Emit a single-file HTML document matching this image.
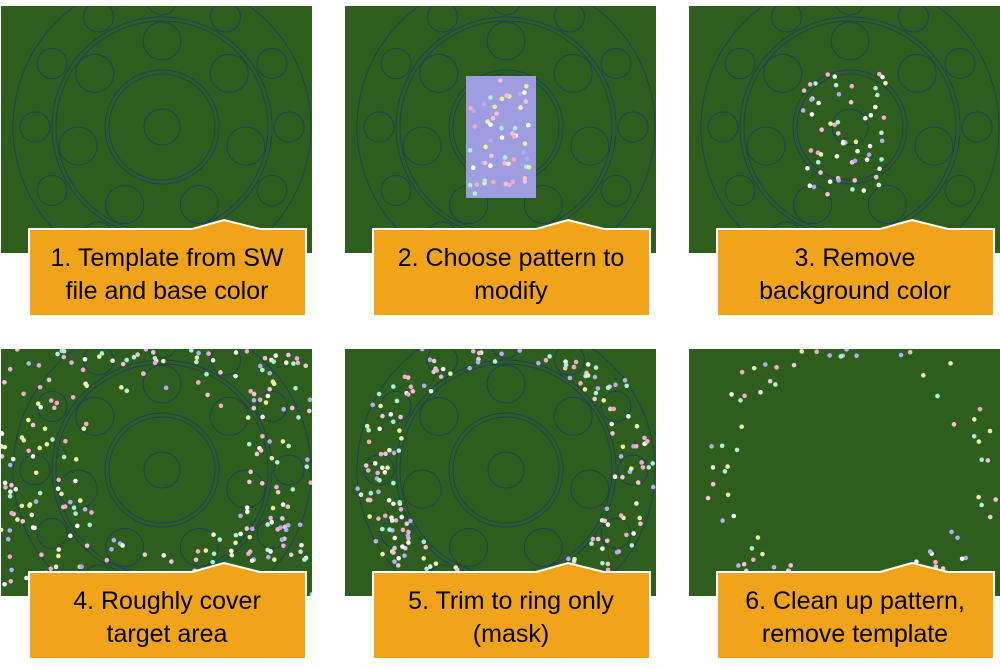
<!DOCTYPE html>
<html><head><meta charset="utf-8"><style>
html,body{margin:0;padding:0;background:#fff;width:1000px;height:668px;overflow:hidden}
svg{display:block}
text{font-family:"Liberation Sans",sans-serif;font-size:25px;fill:#000}
</style></head><body>
<svg id="s" width="1000" height="668" xmlns="http://www.w3.org/2000/svg">
<defs>
<g id="tpl" fill="none" stroke="#1f3f5a" stroke-width="1">
</g>
</defs>
</svg>
<script>
const NS="http://www.w3.org/2000/svg";
const S=document.getElementById('s');
function el(t,a,p){const e=document.createElementNS(NS,t);for(const k in a)e.setAttribute(k,a[k]);(p||S).appendChild(e);return e;}
let seed=7;function rnd(){seed=(seed*16807)%2147483647;return seed/2147483647;}
const cols=["#f6a9cb","#a9f2da","#eef0a2","#b3acf2","#ffffff","#f6c0d8"];
const W=311,H=247,cx=161,cy=121;
const tpl=document.getElementById('tpl');
el('circle',{cx:cx,cy:cy,r:149},tpl);
el('circle',{cx:cx,cy:cy,r:110},tpl);el('circle',{cx:cx,cy:cy,r:106},tpl);
el('circle',{cx:cx,cy:cy,r:57},tpl);el('circle',{cx:cx,cy:cy,r:53},tpl);
el('circle',{cx:cx,cy:cy,r:18},tpl);
for(let i=0;i<7;i++){const a=(270-i*51.43)*Math.PI/180;el('circle',{cx:cx+86*Math.cos(a),cy:cy+86*Math.sin(a),r:19},tpl);}
for(let i=0;i<12;i++){const a=(i*30)*Math.PI/180;el('circle',{cx:cx+127*Math.cos(a),cy:cy+127*Math.sin(a),r:15},tpl);}
const panels=[[1,6],[345,6],[689,6],[1,349],[345,349],[689,349]];
const texts=[["1. Template from SW","file and base color"],["2. Choose pattern to","modify"],["3. Remove","background color"],["4. Roughly cover","target area"],["5. Trim to ring only","(mask)"],["6. Clean up pattern,","remove template"]];
panels.forEach((p,i)=>{
 const g=el('g',{transform:`translate(${p[0]},${p[1]})`});
 el('rect',{x:0,y:0,width:W,height:H,fill:"#2d5e1e"},g);
 const cp=el('clipPath',{id:'c'+i},g);el('rect',{x:0,y:0,width:W,height:H},cp);
 const gg=el('g',{'clip-path':`url(#c${i})`},g);
 if(i!=5) el('use',{href:'#tpl'},gg);
 function star(x,y){el('circle',{cx:x,cy:y,r:2.3,fill:cols[Math.floor(rnd()*cols.length)]},gg);}
 if(i==1){el('rect',{x:121,y:70,width:70,height:122,fill:"#9d9ddf"},gg);
   for(let k=0;k<55;k++)star(125+rnd()*62,74+rnd()*114);}
 if(i==2){for(let k=0;k<60;k++)star(112+rnd()*85,68+rnd()*122);}
 if(i==3){for(let k=0;k<380;k++){const x=rnd()*W,y=rnd()*H;const d=Math.hypot(x-cx,y-cy);if(d>82)star(x,y);}}
 if(i==4){for(let k=0;k<600;k++){const x=rnd()*W,y=rnd()*H;const d=Math.hypot(x-cx,y-cy);if(d>108&&d<150)star(x,y);}}
 if(i==5){for(let k=0;k<500;k++){const x=rnd()*W,y=rnd()*H;const d=Math.hypot(x-cx,y-cy);if(d>112&&d<150&&rnd()<0.6)star(x,y);}}
 const x0=28,x1=305,y0=223,y1=310;
 el('path',{d:`M${x0} ${y0} L191 ${y0} L223 214 L259 ${y0} L${x1} ${y0} L${x1} ${y1} L${x0} ${y1} Z`,fill:"#f1a41a",stroke:"#fff","stroke-width":2},g);
 const t=texts[i];
 el('text',{x:166,y:260,'text-anchor':'middle'},g).textContent=t[0];
 el('text',{x:166,y:293,'text-anchor':'middle'},g).textContent=t[1];
});
</script>
</body></html>
